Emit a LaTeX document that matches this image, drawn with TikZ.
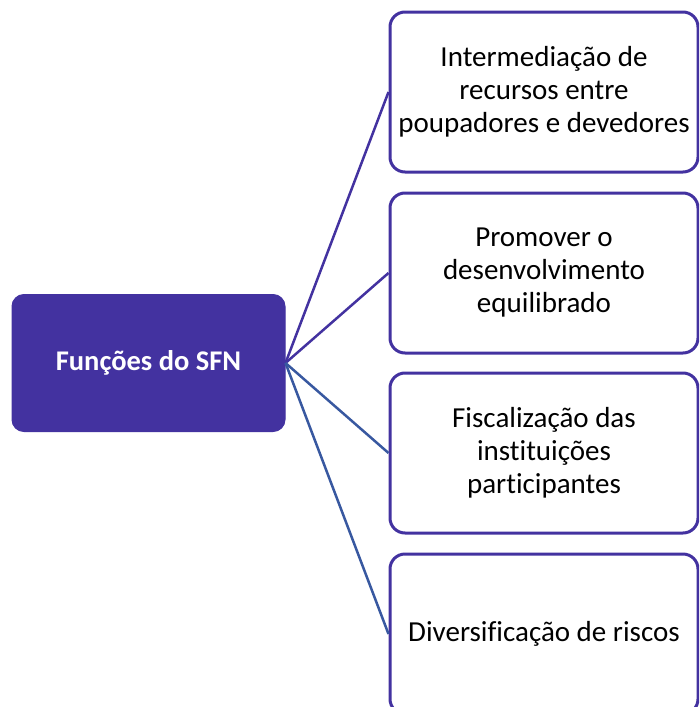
\documentclass[tikz,border=0pt]{standalone}
\usepackage{fontspec}
\setmainfont[Ligatures=NoCommon]{Carlito}
\definecolor{sfnpurple}{RGB}{67,50,160}
\definecolor{sfnblue}{RGB}{56,88,160}
\tikzset{
  mainbox/.style={draw=sfnpurple, fill=sfnpurple, rounded corners=12pt, line width=1pt,
    minimum width=273pt, minimum height=137pt, inner sep=0pt, text=white,
    font=\fontsize{28.5}{34}\selectfont\bfseries},
  itembox/.style={draw=sfnpurple, fill=white, rounded corners=15pt, line width=3pt,
    minimum width=308pt, minimum height=160pt, inner sep=0pt, align=center,
    font=\fontsize{29}{33}\selectfont},
  linkp/.style={draw=sfnpurple, line width=2.5pt},
  linkb/.style={draw=sfnblue, line width=2.5pt}
}
\begin{document}
\begin{tikzpicture}[x=1pt,y=1pt]
\useasboundingbox (0,0) rectangle (699,-707);
\clip (0,0) rectangle (699,-707);
\node[mainbox] (m) at (148.5,-363) {Funções do SFN};
\node[itembox] (b1) at (544,-92) {Intermediação de\\recursos entre\\poupadores e devedores};
\node[itembox] (b2) at (544,-273) {Promover o\\desenvolvimento\\equilibrado};
\node[itembox] (b3) at (544,-453) {Fiscalização das\\instituições\\participantes};
\node[itembox] (b4) at (544,-634) {Diversificação de riscos};
\draw[linkp] (m.east) -- (b1.west);
\draw[linkp] (m.east) -- (b2.west);
\draw[linkb] (m.east) -- (b3.west);
\draw[linkb] (m.east) -- (b4.west);
\end{tikzpicture}
\end{document}
